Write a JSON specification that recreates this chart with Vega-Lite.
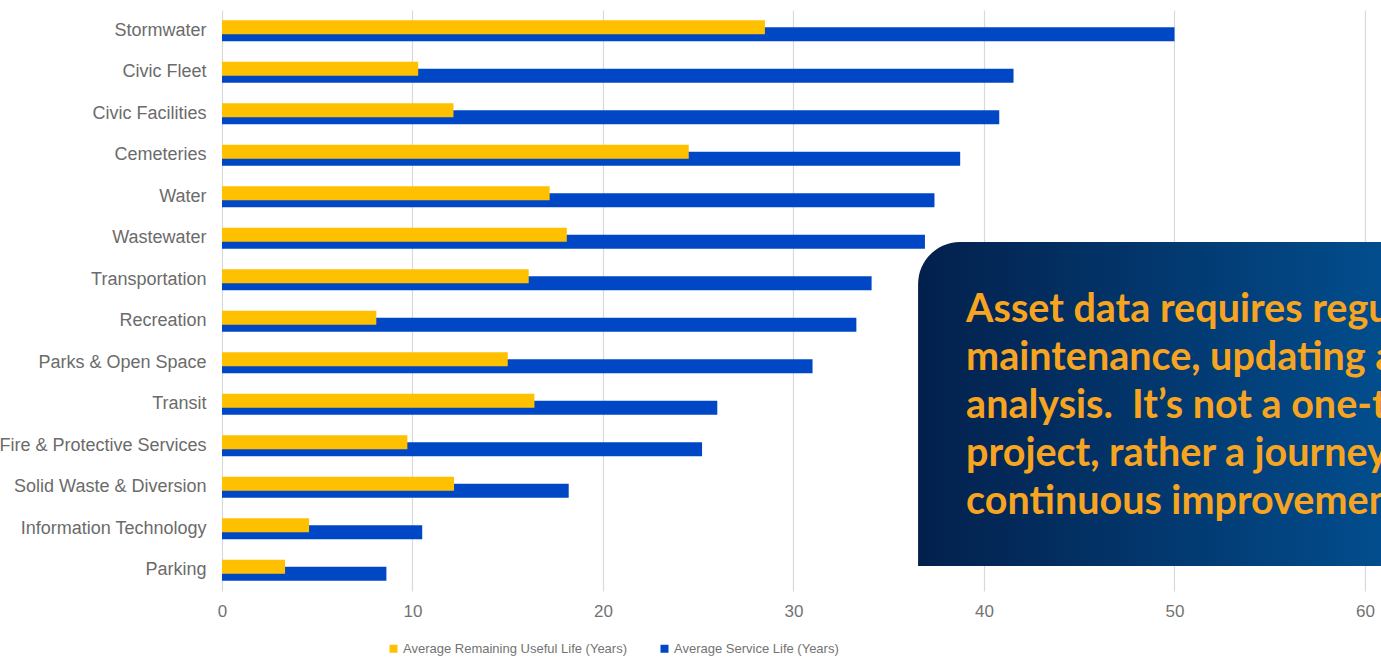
{
  "$schema": "https://vega.github.io/schema/vega-lite/v6.json",
  "width": 1159,
  "height": 581,
  "autosize": {"type": "none"},
  "padding": {"left": 222, "top": 10, "right": 0, "bottom": 66},
  "background": "white",
  "config": {
    "view": {"stroke": null},
    "font": "Liberation Sans",
    "legend": {"padding": 0}
  },
  "layer": [
    {
      "data": {
        "values": [
          {"category": "Stormwater", "remaining": 28.5, "service": 50.0},
          {"category": "Civic Fleet", "remaining": 10.3, "service": 41.55},
          {"category": "Civic Facilities", "remaining": 12.15, "service": 40.8},
          {"category": "Cemeteries", "remaining": 24.5, "service": 38.75},
          {"category": "Water", "remaining": 17.2, "service": 37.4},
          {"category": "Wastewater", "remaining": 18.1, "service": 36.9},
          {"category": "Transportation", "remaining": 16.1, "service": 34.1},
          {"category": "Recreation", "remaining": 8.1, "service": 33.3},
          {"category": "Parks & Open Space", "remaining": 15.0, "service": 31.0},
          {"category": "Transit", "remaining": 16.4, "service": 26.0},
          {"category": "Fire & Protective Services", "remaining": 9.73, "service": 25.2},
          {"category": "Solid Waste & Diversion", "remaining": 12.18, "service": 18.2},
          {"category": "Information Technology\u00a0", "remaining": 4.57, "service": 10.51},
          {"category": "Parking", "remaining": 3.31, "service": 8.63}
        ]
      },
      "layer": [
        {
          "mark": {"type": "bar", "height": 14, "yOffset": 3.6},
          "encoding": {
            "y": {
              "field": "category", "type": "nominal", "sort": null, "title": null,
              "axis": {"domain": false, "ticks": false, "labelPadding": 16, "labelFontSize": 18, "labelColor": "#6b6b6b", "labelLimit": 400, "grid": false}
            },
            "x": {
              "field": "service", "type": "quantitative", "title": null,
              "scale": {"domain": [0, 60.84], "nice": false, "zero": true},
              "axis": {"values": [0, 10, 20, 30, 40, 50, 60], "format": "d", "domain": false, "ticks": false, "grid": true, "gridColor": "#d9d9d9", "gridWidth": 1.2, "labelFontSize": 17, "labelColor": "#737373", "labelPadding": 12, "labelFlush": false}
            },
            "color": {
              "datum": "Average Service Life (Years)",
              "scale": {"domain": ["Average Remaining Useful Life (Years)", "Average Service Life (Years)"], "range": ["#FFC000", "#0047C6"]},
              "legend": {
                "title": null, "orient": "none", "direction": "horizontal",
                "legendX": 165, "legendY": 632,
                "symbolType": "square", "symbolSize": 64, "symbolStrokeWidth": 0,
                "labelFontSize": 13, "labelColor": "#737373", "labelOffset": 3,
                "columnPadding": 30, "labelLimit": 400
              }
            }
          }
        },
        {
          "mark": {"type": "bar", "height": 14, "yOffset": -3.6},
          "encoding": {
            "y": {"field": "category", "type": "nominal", "sort": null, "title": null},
            "x": {"field": "remaining", "type": "quantitative", "title": null},
            "color": {"datum": "Average Remaining Useful Life (Years)"}
          }
        }
      ]
    },
    {
      "data": {"values": [{}]},
      "layer": [
        {
          "mark": {
            "type": "rect",
            "cornerRadiusTopLeft": 42,
            "color": {
              "gradient": "linear", "x1": 0, "x2": 1, "y1": 0, "y2": 0,
              "stops": [{"offset": 0, "color": "#03204c"}, {"offset": 1, "color": "#024d8d"}]
            }
          },
          "encoding": {
            "x": {"datum": 36.54, "type": "quantitative", "title": null},
            "x2": {"datum": 60.84},
            "y": {"datum": 5.59, "type": "quantitative", "title": null, "scale": {"domain": [0, 14], "reverse": true, "nice": false, "zero": false}, "axis": null},
            "y2": {"datum": 13.4}
          }
        },
        {
          "mark": {
            "type": "text",
            "text": "Asset data requires regular\nmaintenance, updating and\nanalysis.\u00a0 It’s not a one-time\nproject, rather a journey of\ncontinuous improvement.",
            "lineBreak": "\n",
            "align": "left",
            "baseline": "alphabetic",
            "font": "Lato",
            "fontWeight": "bold",
            "fontSize": 39.5,
            "lineHeight": 48,
            "color": "#f7a520",
            "clip": true
          },
          "encoding": {
            "x": {"datum": 39.06, "type": "quantitative", "title": null},
            "y": {"datum": 7.51, "type": "quantitative", "title": null}
          }
        }
      ]
    }
  ],
  "resolve": {"scale": {"y": "independent"}}
}
